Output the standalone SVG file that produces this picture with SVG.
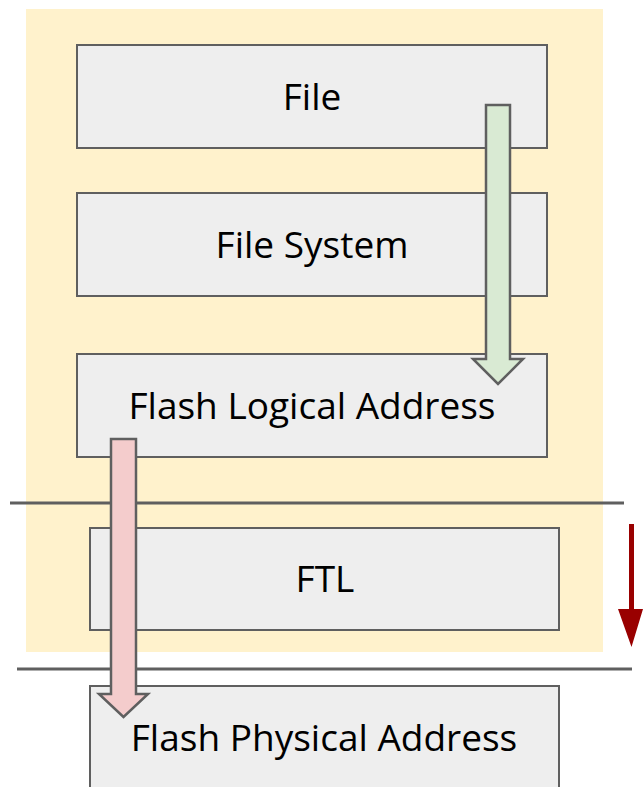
<svg xmlns="http://www.w3.org/2000/svg" width="643" height="787" viewBox="0 0 643 787">
<style>
.box{fill:#eeeeee;stroke:#5f5f5f;stroke-width:2}
.lbl{font-family:"Open Sans","Noto Sans",sans-serif;font-size:37px;fill:#000;text-anchor:middle}
.sep{stroke:#5f5f5f;stroke-width:3;fill:none}
.arr{stroke:#5f5f5f;stroke-width:2.5;stroke-linejoin:miter}
</style>
<rect x="26" y="9" width="577" height="643" fill="#fff2cc"/>
<g id="node-file"><rect class="box" x="77" y="45" width="470" height="103"/><text class="lbl" x="312" y="110">File</text></g>
<g id="node-filesystem"><rect class="box" x="77" y="193" width="470" height="103"/><text class="lbl" x="312" y="258">File System</text></g>
<g id="node-logical"><rect class="box" x="77" y="354" width="470" height="103"/><text class="lbl" x="312" y="419">Flash Logical Address</text></g>
<g id="node-ftl"><rect class="box" x="90" y="528" width="469" height="102"/><text class="lbl" x="325" y="592">FTL</text></g>
<g id="node-physical"><rect class="box" x="90" y="686" width="469" height="110"/><text class="lbl" x="324" y="751">Flash Physical Address</text></g>
<g id="connectors">
<line class="sep" x1="10" y1="503" x2="624" y2="503"/>
<line class="sep" x1="17" y1="669" x2="632" y2="669"/>
<polygon class="arr" fill="#d9ead3" points="486,105 510,105 510,359 523,359 498,384 473,359 486,359"/>
<polygon class="arr" fill="#f4cccc" points="111,439 136,439 136,694 148,694 123.5,717 99,694 111,694"/>
<polygon fill="#990000" points="629,524 634,524 634,609 643,609 631.5,647 618,609 629,609"/>
</g>
</svg>
